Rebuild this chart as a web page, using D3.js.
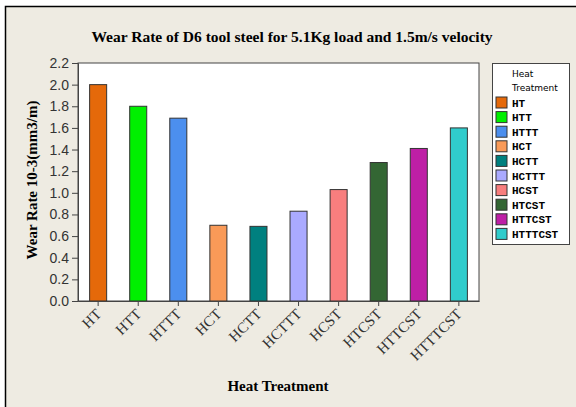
<!DOCTYPE html>
<meta charset="utf-8">
<style>
body{margin:0;background:#fff;}
svg{display:block;}
.tick text{fill:#333;}
</style>
<body>
<script src="https://cdn.jsdelivr.net/npm/d3@7"></script>
<script>
var treatments = ["HT","HTT","HTTT","HCT","HCTT","HCTTT","HCST","HTCST","HTTCST","HTTTCST"];
var wearRate = [2.0, 1.8, 1.69, 0.70, 0.69, 0.83, 1.03, 1.28, 1.41, 1.60];
var barColors = ["#E5690A","#00F000","#4C8FEE","#F99A58","#00807F","#AAAAFF","#F87E7E","#336633","#BE1FA6","#30CCCC"];
var yTicks = [0,0.2,0.4,0.6,0.8,1.0,1.2,1.4,1.6,1.8,2.0,2.2];

var W = 576, H = 407;
var m = {left:78, right:479, top:63, bottom:301};

var svg = d3.select("body").append("svg").attr("width",W).attr("height",H);

// page frame
svg.append("rect").attr("x",5).attr("y",6).attr("width",W-5).attr("height",H-6).attr("fill","#EEEBE2");
svg.append("path").attr("d","M5.5,"+H+"V6.5H"+W).attr("fill","none").attr("stroke","#000").attr("stroke-width",1.5);

var x = d3.scaleBand().domain(treatments).range([m.left,m.right]).paddingInner(0.575).paddingOuter(0.29);
var y = d3.scaleLinear().domain([0,2.2]).range([m.bottom,m.top]);

svg.append("rect").attr("x",m.left).attr("y",m.top).attr("width",m.right-m.left).attr("height",m.bottom-m.top)
  .attr("fill","#fff").attr("stroke","#444").attr("stroke-width",1);

svg.selectAll(".bar").data(treatments).enter().append("rect")
  .attr("class","bar")
  .attr("x",function(d){return x(d);})
  .attr("width",x.bandwidth())
  .attr("y",function(d,i){return y(wearRate[i]);})
  .attr("height",function(d,i){return y(0)-y(wearRate[i]);})
  .attr("fill",function(d,i){return barColors[i];})
  .attr("stroke","#333").attr("stroke-width",1);

var yAxis = svg.append("g").attr("transform","translate("+m.left+",0)")
  .call(d3.axisLeft(y).tickValues(yTicks).tickFormat(d3.format(".1f")).tickSize(6).tickPadding(3));
yAxis.selectAll("text").style("font-family","'Liberation Sans Narrow','Liberation Sans',sans-serif").style("font-size","14px");
yAxis.selectAll("line,path").attr("stroke","#444");

var xAxis = svg.append("g").attr("transform","translate(0,"+m.bottom+")")
  .call(d3.axisBottom(x).tickSize(5).tickSizeOuter(0));
xAxis.select(".domain").attr("stroke","#444");
xAxis.selectAll("line").attr("stroke","#444");
xAxis.selectAll("text")
  .style("font-family","'Liberation Serif',serif").style("font-size","15px")
  .attr("text-anchor","end").attr("dy",null).attr("y",0)
  .attr("transform","translate(4,14) rotate(-45)");

// titles
svg.append("text").attr("x",292).attr("y",42).attr("text-anchor","middle")
  .style("font-family","'Liberation Serif',serif").style("font-weight","bold").style("font-size","15.5px")
  .text("Wear Rate of D6 tool steel for 5.1Kg load and 1.5m/s velocity");
svg.append("text").attr("x",278).attr("y",391).attr("text-anchor","middle")
  .style("font-family","'Liberation Serif',serif").style("font-weight","bold").style("font-size","15px")
  .text("Heat Treatment");
svg.append("text").attr("transform","translate(37,180) rotate(-90)").attr("text-anchor","middle")
  .style("font-family","'Liberation Serif',serif").style("font-weight","bold").style("font-size","15px")
  .text("Wear Rate 10-3(mm3/m)");

// legend
var lg = svg.append("g");
lg.append("rect").attr("x",492.5).attr("y",63.5).attr("width",77).attr("height",181)
  .attr("fill","#fff").attr("stroke","#444");
lg.append("text").attr("x",512).attr("y",77).text("Heat")
  .style("font-family","'DejaVu Sans',sans-serif").style("font-size","9px");
lg.append("text").attr("x",512).attr("y",91).text("Treatment")
  .style("font-family","'DejaVu Sans',sans-serif").style("font-size","9px");
var item = lg.selectAll(".item").data(treatments).enter().append("g")
  .attr("transform",function(d,i){return "translate(496,"+(97+i*14.6)+")";});
item.append("rect").attr("width",11).attr("height",11)
  .attr("fill",function(d,i){return barColors[i];}).attr("stroke","#333");
item.append("text").attr("x",16).attr("y",9.5).text(function(d){return d;})
  .style("font-family","'Liberation Mono',monospace").style("font-size","11px").style("font-weight","bold");
</script>
</body>
